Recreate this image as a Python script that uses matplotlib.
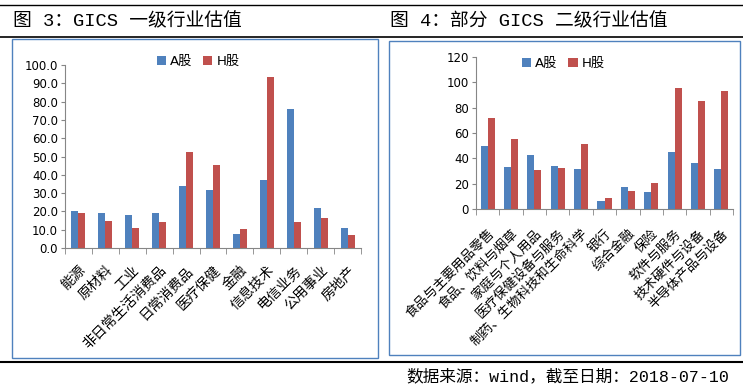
import numpy as np
import matplotlib
matplotlib.use('Agg')
import matplotlib.pyplot as plt
from matplotlib.lines import Line2D
from matplotlib.patches import Rectangle

plt.rcParams['font.family'] = ['DejaVu Sans', 'Noto Sans CJK SC']
plt.rcParams['axes.unicode_minus'] = False

# 图3：GICS 一级行业
cats1 = ['能源', '原材料', '工业', '非日常生活消费品', '日常消费品', '医疗保健',
         '金融', '信息技术', '电信业务', '公用事业', '房地产']
a1 = [20.3, 19.2, 18.1, 19.2, 34.1, 31.9, 7.7, 37.4, 75.8, 22.0, 11.0]
h1 = [19.2, 14.8, 11.0, 14.3, 52.7, 45.6, 10.4, 93.4, 14.3, 16.5, 7.1]

# 图4：部分 GICS 二级行业
cats2 = ['食品与主要用品零售', '食品、饮料与烟草', '家庭与个人用品', '医疗保健设备与服务',
         '制药、生物科技和生命科学', '银行', '综合金融', '保险', '软件与服务',
         '技术硬件与设备', '半导体产品与设备']
a2 = [49.9, 33.2, 42.7, 34.0, 31.7, 6.3, 17.4, 13.5, 45.1, 36.4, 31.7]
h2 = [72.0, 55.4, 30.9, 32.4, 51.4, 8.7, 14.2, 20.6, 95.8, 85.5, 93.4]

BLUE = '#4F81BD'
RED = '#C0504D'
GREY = '#868686'
W, H = 743, 391

fig = plt.figure(figsize=(W / 100, H / 100), dpi=100)


def fx(px):
    return px / W


def fy(py):
    return 1 - py / H


def draw_panel(ax, cats, a, h, yticks, fmt, bw, leg_xy, lab_size, lab_pad):
    x = np.arange(len(cats))
    ax.bar(x - bw / 2, a, bw, color=BLUE, label='A股')
    ax.bar(x + bw / 2, h, bw, color=RED, label='H股')
    ax.set_xlim(-0.5, len(cats) - 0.5)
    ax.set_ylim(yticks[0], yticks[-1])
    ax.set_yticks(yticks)
    ax.set_yticklabels([fmt.format(v) for v in yticks], fontsize=8.5)
    ax.set_xticks(x)
    ax.set_xticklabels(cats, rotation=45, ha='right', va='top',
                       rotation_mode='anchor', fontsize=lab_size)
    ax.set_xticks(np.arange(len(cats) + 1) - 0.5, minor=True)
    ax.tick_params(axis='x', which='major', length=0, pad=lab_pad)
    ax.tick_params(axis='x', which='minor', length=4, color=GREY)
    ax.tick_params(axis='y', length=3, color=GREY, pad=2)
    for s in ['top', 'right']:
        ax.spines[s].set_visible(False)
    for s in ['left', 'bottom']:
        ax.spines[s].set_color(GREY)
    ax.grid(False)
    ax.legend(loc='center', bbox_to_anchor=leg_xy, ncol=2, frameon=False,
              handlelength=0.7, handleheight=0.7, handletextpad=0.3,
              columnspacing=0.8, fontsize=9.5)


ax1 = fig.add_axes([fx(65), fy(248), fx(361 - 65), (248 - 65) / H])
draw_panel(ax1, cats1, a1, h1, list(range(0, 101, 10)), '{:.1f}', 0.26,
           (0.45, 1.02), 10, 11)

ax2 = fig.add_axes([fx(476), fy(209), fx(733 - 476), (209 - 57) / H])
draw_panel(ax2, cats2, a2, h2, list(range(0, 121, 20)), '{:d}', 0.3,
           (0.34, 0.955), 9.5, 13)

# 标题、分隔线与边框
title_font = ['Liberation Mono', 'Noto Sans CJK SC']
fig.text(fx(13), fy(21), '图 3：GICS 一级行业估值', fontsize=13.5,
         family=title_font, va='center', ha='left')
fig.text(fx(390), fy(21), '图 4：部分 GICS 二级行业估值', fontsize=13.5,
         family=title_font, va='center', ha='left')
fig.text(fx(729), fy(376), '数据来源：wind，截至日期：2018-07-10', fontsize=12,
         family=title_font, va='center', ha='right')

for yy, lw in [(5, 1.0), (37, 1.2), (362, 1.5)]:
    fig.add_artist(Line2D([0, 1], [fy(yy), fy(yy)], transform=fig.transFigure,
                          color='black', lw=lw))

fig.add_artist(Rectangle((fx(12), fy(358)), fx(378 - 12), (358 - 39) / H,
                         transform=fig.transFigure, fill=False,
                         edgecolor=BLUE, lw=1))
fig.add_artist(Rectangle((fx(389), fy(355)), fx(740 - 389), (355 - 41) / H,
                         transform=fig.transFigure, fill=False,
                         edgecolor=BLUE, lw=1))

fig.savefig('out.png', dpi=100, facecolor='white')
